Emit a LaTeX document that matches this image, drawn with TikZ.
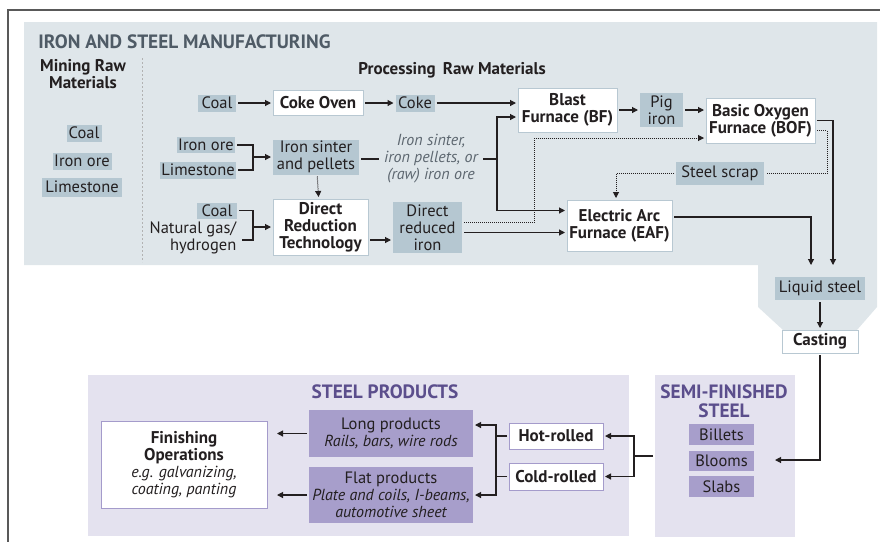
\documentclass[tikz,border=0pt]{standalone}
\usepackage{fontspec}
\setmainfont{PT Sans}
\usetikzlibrary{arrows.meta}
\definecolor{panelcol}{HTML}{DFE6EA}
\definecolor{rawcol}{HTML}{B5C7D1}
\definecolor{edgecol}{HTML}{B8C8D2}
\definecolor{txtcol}{HTML}{231F20}
\definecolor{titlecol}{HTML}{4F5B66}
\definecolor{notecol}{HTML}{5D6770}
\definecolor{lavcol}{HTML}{E4E2EF}
\definecolor{prodcol}{HTML}{A79ECB}
\definecolor{purpedge}{HTML}{A49BCB}
\definecolor{headcol}{HTML}{5B4E8C}
\newcommand{\txt}{\fontsize{16.5}{17}\selectfont}
\newcommand{\bftxt}{\fontsize{17}{17}\selectfont\bfseries}
\newcommand{\ittxt}{\fontsize{16}{17}\selectfont\itshape}
\newcommand{\hdtxt}{\fontsize{19.3}{18.5}\selectfont\bfseries}
\begin{document}
\begin{tikzpicture}[x=1pt,y=-1pt,
		font=\txt, text=txtcol,
		raw/.style={fill=rawcol, inner sep=0pt, align=center},
		proc/.style={draw=edgecol, line width=1pt, fill=white, inner sep=0pt, align=center, font=\bftxt},
		prod/.style={fill=prodcol, inner sep=0pt, align=center},
		roll/.style={draw=purpedge, line width=1pt, fill=white, inner sep=0pt, align=center, font=\bftxt},
		panel/.style={fill=lavcol, inner sep=0pt},
		arr/.style={draw=txtcol, line width=1.1pt, -{Triangle[length=6pt,width=6pt]}},
		ln/.style={draw=txtcol, line width=1.1pt},
		dots/.style={draw=txtcol, line width=1pt, densely dotted},
		every node/.append style={outer sep=2pt}]
		\useasboundingbox (0,0) rectangle (880,542);
		%rahmen
		\draw[line width=1.2pt, black!65] (880,10) -- (8,10) -- (8,542);
		%obere flaeche
		\fill[panelcol] (24,22) -- (877,22) -- (877,307) -- (857,330) -- (783,330) -- (758,307) -- (758,265) -- (24,265) -- cycle;
		\node[anchor=west, text=titlecol, font=\hdtxt] (title) at (33,42) {IRON AND STEEL MANUFACTURING};
		\node[align=center, font=\bftxt] (mining) at (83,74) {Mining Raw\\Materials};
		\draw[black!30, line width=1pt, dash pattern=on 2pt off 2pt] (142,58) -- (142,262);
		\node[raw, minimum width=35, minimum height=17] (mcoal) at (84,133) {Coal};
		\node[raw, minimum width=59, minimum height=17] (miron) at (82,161) {Iron ore};
		\node[raw, minimum width=80, minimum height=19] (mlime) at (82,187) {Limestone};
		\node[font=\bftxt] (processing) at (452,70) {Processing\, Raw Materials};
		%reihe 1
		\node[raw, minimum width=38, minimum height=17] (pcoal) at (217,103) {Coal};
		\node[proc, minimum width=90, minimum height=25] (cokeoven) at (318,103) {Coke Oven};
		\node[raw, minimum width=39, minimum height=17] (coke) at (415,103) {Coke};
		\node[proc, minimum width=99, minimum height=44] (bf) at (567.5,110) {Blast\\Furnace (BF)};
		\node[raw, minimum width=43, minimum height=34] (pig) at (661.5,110) {Pig\\iron};
		\node[proc, minimum width=109, minimum height=45] (bof) at (760.5,120.5) {Basic Oxygen\\Furnace (BOF)};
		%reihe 2
		\node[raw, minimum width=58, minimum height=16] (pironore) at (206,145) {Iron ore};
		\node[raw, minimum width=76, minimum height=17] (plime) at (198,170) {Limestone};
		\node[raw, minimum width=86, minimum height=35] (sinter) at (316,157) {Iron sinter\\and pellets};
		\node[align=center, text=notecol, font=\ittxt] (sintertext) at (431,159) {Iron sinter,\\iron pellets, or\\(raw) iron ore};
		\node[raw, minimum width=88, minimum height=23] (scrap) at (720,173.5) {Steel scrap};
		%reihe 3
		\node[raw, minimum width=40, minimum height=16] (dcoal) at (217,210.5) {Coal};
		\node[align=right] (natgas) at (193,238) {Natural gas/\\hydrogen};
		\node[proc, minimum width=95, minimum height=56] (drt) at (320.5,227) {Direct\\Reduction\\Technology};
		\node[raw, minimum width=69, minimum height=51] (dri) at (427.5,227.5) {Direct\\reduced\\iron};
		\node[proc, minimum width=105, minimum height=51] (eaf) at (619.5,225.5) {Electric Arc\\Furnace (EAF)};
		\node[raw, minimum width=90, minimum height=23] (liquid) at (820,288.5) {Liquid steel};
		\node[draw=edgecol, line width=1pt, fill=white, inner sep=0pt, font=\bftxt, minimum width=76, minimum height=23] (casting) at (820,341.5) {Casting};
		%untere flaechen
		\node[panel, minimum width=541, minimum height=161] (prodpanel) at (358.5,455.5) {};
		\node[panel, minimum width=140, minimum height=162] (semi) at (725,456) {};
		\node[text=headcol, font=\hdtxt] (prodhead) at (385,392) {STEEL PRODUCTS};
		\node[align=center, text=headcol, font=\hdtxt] (semihead) at (724,401) {SEMI-FINISHED\\STEEL};
		\node[roll, minimum width=166, minimum height=87] (finishing) at (184,464.5) {Finishing\\Operations\\{\ittxt\mdseries e.g. galvanizing,}\\{\ittxt\mdseries coating, panting}};
		\node[prod, minimum width=164, minimum height=47] (long) at (391,433.5) {Long products\\{\ittxt Rails, bars, wire rods}};
		\node[prod, minimum width=164, minimum height=56] (flat) at (391,495) {Flat products\\{\ittxt Plate and coils, I-beams,}\\{\ittxt automotive sheet}};
		\node[roll, minimum width=94, minimum height=26] (hot) at (556,436) {Hot-rolled};
		\node[roll, minimum width=94, minimum height=27] (cold) at (556,476.5) {Cold-rolled};
		\node[prod, minimum width=65, minimum height=21] (billets) at (721.5,434.5) {Billets};
		\node[prod, minimum width=65, minimum height=20] (blooms) at (721.5,461) {Blooms};
		\node[prod, minimum width=65, minimum height=21] (slabs) at (721.5,486.5) {Slabs};
		%hilfspunkte
		\coordinate (split) at (497,159);
		\coordinate (dsplit) at (534,222.5);
		\coordinate (ibrk) at (253,157);
		\coordinate (dbrk) at (253,227);
		\coordinate (lsin1) at (811,265);
		\coordinate (lsin2) at (833,265);
		\coordinate (castin) at (775,460);
		\coordinate (rsplit) at (634,456);
		\coordinate (psplit) at (496,456);
		%pfeile oben
		\draw[arr] (pcoal) -- (cokeoven);
		\draw[arr] (cokeoven) -- (coke);
		\draw[arr] (coke) -- (coke -| bf.west);
		\draw[arr] (bf.east |- pig) -- (pig);
		\draw[arr] (pig) -- (pig -| bof.west);
		\draw[ln] (pironore.east) -| (ibrk) |- (plime.east);
		\draw[arr] (ibrk) -- (sinter.west |- ibrk);
		\draw[ln] (sinter.east |- sintertext) -- (sintertext);
		\draw[ln] (sintertext) -- (split);
		\draw[arr] (split) |- ([yshift=-7pt]bf.west);
		\draw[arr] (split) |- ([yshift=15pt]eaf.west);
		\draw[dots, -{Triangle[length=6pt,width=6pt]}] (sinter) -- (drt);
		\draw[ln] (dcoal.east) -| (dbrk) |- ([yshift=-2pt]natgas.east);
		\draw[arr] (dbrk) -- (drt.west |- dbrk);
		\draw[arr] ([yshift=-13pt]drt.east) -- ([yshift=-13pt]drt.east -| dri.west);
		\draw[arr] ([yshift=-5pt]dri.east) -- ([yshift=-5pt]dri.east -| eaf.west);
		\draw[dots] ([yshift=5pt]dri.east) -- (dri.east |- dsplit) -- (dsplit);
		\draw[dots, -{Triangle[length=6pt,width=6pt]}] (dsplit) |- ([yshift=-17.5pt]bof.west);
		\draw[dots] ([yshift=-10pt]bof.east) -- ++(10,0) |- (scrap);
		\draw[dots, -{Triangle[length=6pt,width=6pt]}] (scrap) -| ([xshift=-3.5pt]eaf.north);
		\draw[arr] (bof.east) -| (lsin2);
		\draw[arr] ([yshift=8.5pt]eaf.east) -| (lsin1);
		\draw[arr] (liquid) -- (casting);
		%pfeile unten
		\draw[arr] (casting.south) |- (castin);
		\draw[ln] (semi.west |- rsplit) -- (rsplit);
		\draw[arr] (rsplit) |- (hot);
		\draw[arr] (rsplit) |- (cold);
		\draw[ln] (hot.west) -- (hot.west -| psplit);
		\draw[ln] (cold.west) -- (cold.west -| psplit);
		\draw[arr] (psplit) |- ([yshift=8.5pt]long.east);
		\draw[arr] (psplit) |- (flat.east);
		\draw[arr, shorten >=8pt] (long.west) -- (long.west -| finishing.east);
		\draw[arr, shorten >=8pt] (flat.west) -- (flat.west -| finishing.east);
	\end{tikzpicture}
\end{document}
